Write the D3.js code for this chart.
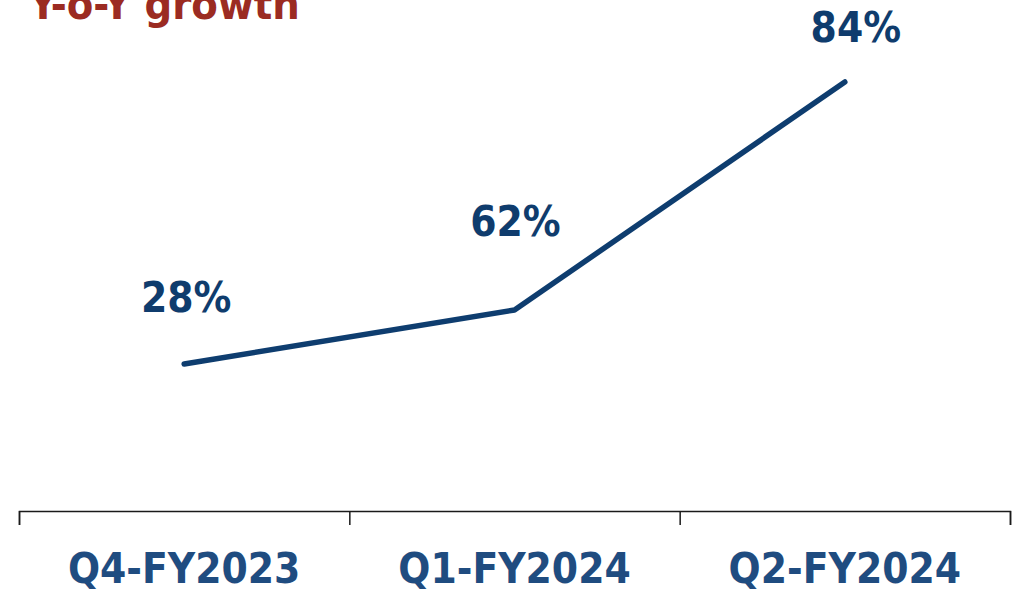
<!DOCTYPE html>
<html>
<head>
<meta charset="utf-8">
<script src="https://cdn.jsdelivr.net/npm/d3@7"></script>
<style>
  html, body { margin: 0; padding: 0; background: #fff; }
  svg { display: block; font-family: "DejaVu Sans Condensed", "DejaVu Sans", sans-serif; font-weight: bold; }
</style>
</head>
<body>
<div id="chart"></div>
<script>
(function(){
  var categories = ['Q4-FY2023', 'Q1-FY2024', 'Q2-FY2024']
  var lineValues = [29.4, 40.2, 85.8]
  var growthLabels = ['28%', '62%', '84%']
  var title = 'Y-o-Y growth'

  var W = 1026, H = 589
  var left = 19, right = 1010, axisY = 511, top = 11

  // label placement
  var labelLift = [52, 74, 40]
  var labelShift = [2, 1, 11]

  var svg = d3.select('#chart').append('svg')
    .attr('width', W).attr('height', H)

  var x = d3.scaleBand().domain(categories).range([left, right])
  var y = d3.scaleLinear().domain([0, 100]).range([axisY, top])
  var edges = d3.scaleLinear().domain([0, categories.length]).range([left, right])

  svg.append('text')
    .attr('x', 29).attr('y', 19)
    .attr('font-size', 43)
    .attr('fill', '#9b2b22')
    .text(title)

  var axis = svg.append('g')
    .attr('transform', 'translate(0,' + axisY + ')')
    .call(d3.axisBottom(edges).ticks(categories.length).tickSize(14).tickSizeOuter(14).tickFormat(''))
  axis.selectAll('path, line').attr('stroke', '#1a1a1a').attr('stroke-width', 1.5)

  svg.selectAll('.cat')
    .data(categories)
    .enter().append('text')
    .attr('class', 'cat')
    .attr('x', function(d) { return x(d) + x.bandwidth() / 2 })
    .attr('y', 583)
    .attr('text-anchor', 'middle')
    .attr('font-size', 42)
    .attr('fill', '#1f4c80')
    .text(function(d) { return d })

  var line = d3.line()
    .x(function(d, i) { return x(categories[i]) + x.bandwidth() / 2 })
    .y(function(d) { return y(d) })

  svg.append('path')
    .datum(lineValues)
    .attr('d', line)
    .attr('fill', 'none')
    .attr('stroke', '#0e3d6f')
    .attr('stroke-width', 5.5)
    .attr('stroke-linecap', 'round')
    .attr('stroke-linejoin', 'round')

  svg.selectAll('.val')
    .data(lineValues)
    .enter().append('text')
    .attr('class', 'val')
    .attr('x', function(d, i) { return x(categories[i]) + x.bandwidth() / 2 + labelShift[i] })
    .attr('y', function(d, i) { return y(d) - labelLift[i] })
    .attr('text-anchor', 'middle')
    .attr('font-size', 42)
    .attr('fill', '#0f3c6d')
    .text(function(d, i) { return growthLabels[i] })
})()
</script>
</body>
</html>
